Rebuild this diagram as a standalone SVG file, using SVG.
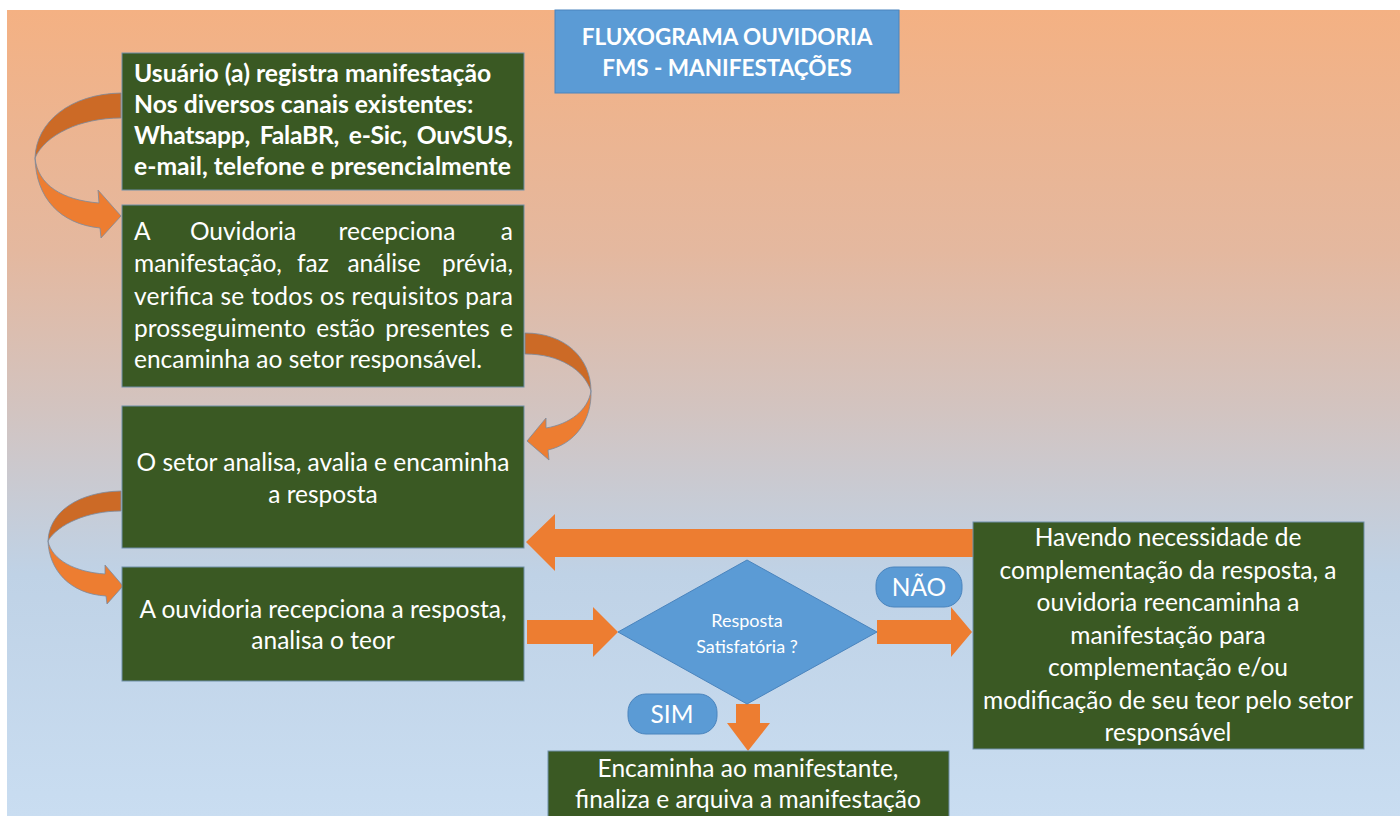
<svg xmlns="http://www.w3.org/2000/svg" width="1400" height="816" viewBox="0 0 1400 816">
<style>
.t{font-family:Lato,"Liberation Sans",sans-serif;fill:#ffffff;}
.b{font-weight:bold;}
.c{text-anchor:middle;}
.e{text-anchor:end;}
.box{fill:#3a5923;stroke:#6f8fa8;stroke-width:1;}
.blue{fill:#5b9bd5;stroke:#4a84bd;stroke-width:1;}
.arr{fill:#ed7d31;}
.dk{fill:#cc6a26;stroke:#7a8aa0;stroke-width:0.8;}
.lt{fill:#ed7d31;stroke:#7a8aa0;stroke-width:0.8;}
.f24{font-size:24.5px;}
.f25{font-size:24.7px;}
</style>
<defs>
<linearGradient id="bg" x1="0" y1="0" x2="0" y2="1">
<stop offset="0" stop-color="#f4b183"/>
<stop offset="0.3" stop-color="#e4b89f"/>
<stop offset="0.5" stop-color="#d2c4c1"/>
<stop offset="0.7" stop-color="#bfd2e6"/>
<stop offset="1" stop-color="#c9ddf1"/>
</linearGradient>
</defs>
<rect x="0" y="0" width="1400" height="816" fill="#ffffff"/>
<rect x="7" y="10" width="1393" height="806" fill="url(#bg)"/>

<g id="connectors">
<path class="dk" d="M121 93 C70 94 36 122 35 158 C45 135 80 118 121 118 Z"/>
<path class="lt" d="M35 158 C38 185 62 200 99 203 L98 190 L121 216 L101 238 L100 228 C60 224 36 198 35 158 Z"/>
<path class="dk" d="M525 333 C565 333 591 358 591 391 C584 370 560 354 525 354 Z"/>
<path class="lt" d="M591 391 C588 410 570 424 546 428 L546 418 L527 441 L549 460 L548 450 C575 444 592 420 591 391 Z"/>
<path class="dk" d="M121 491 C78 492 49 512 48 541 C58 524 88 511 121 511 Z"/>
<path class="lt" d="M48 541 C52 560 75 572 105 574 L105 565 L123 586 L107 604 L106 596 C70 594 49 570 48 541 Z"/>
<polygon class="arr" points="973,529 555,529 555,514 526,542 555,571 555,557 973,557"/>
<polygon class="arr" points="527,620 593,620 593,607 618,632 593,657 593,644 527,644"/>
<polygon class="arr" points="877,620 951,620 951,607 972,632 951,657 951,644 877,644"/>
<polygon class="arr" points="736,704 760,704 760,723 770,723 748,751 727,723 736,723"/>
</g>

<g id="title">
<rect class="blue" x="555" y="10" width="344" height="83"/>
<text class="t b c" x="727" y="45" font-size="22.5">FLUXOGRAMA OUVIDORIA</text>
<text class="t b c" x="727" y="76" font-size="22.5">FMS - MANIFESTAÇÕES</text>
</g>

<g id="n1">
<rect class="box" x="122" y="53" width="402" height="137"/>
<text class="t b f25" x="134" y="82">Usuário (a) registra manifestação</text>
<text class="t b f25" x="134" y="113">Nos diversos canais existentes:</text>
<text class="t b f25" x="134" y="144" textLength="379" lengthAdjust="spacing" word-spacing="4">Whatsapp, FalaBR, e-Sic, OuvSUS,</text>
<text class="t b f25" x="134" y="175">e-mail, telefone e presencialmente</text>
</g>

<g id="n2">
<rect class="box" x="122" y="205" width="402" height="182"/>
<text class="t f24" x="134" y="240">A</text>
<text class="t f24 c" x="243" y="240">Ouvidoria</text>
<text class="t f24 c" x="397" y="240">recepciona</text>
<text class="t f24 e" x="513" y="240">a</text>
<text class="t f24" x="134" y="272">manifestação,</text>
<text class="t f24 c" x="313" y="272">faz</text>
<text class="t f24 c" x="384" y="272">análise</text>
<text class="t f24 e" x="513" y="272">prévia,</text>
<text class="t f24" x="134" y="305" textLength="379" lengthAdjust="spacing">verifica se todos os requisitos para</text>
<text class="t f24" x="134" y="337" textLength="379" lengthAdjust="spacing" word-spacing="4">prosseguimento estão presentes e</text>
<text class="t f24" x="134" y="368">encaminha ao setor responsável.</text>
</g>

<g id="n3">
<rect class="box" x="122" y="406" width="402" height="142"/>
<text class="t c f24" x="323" y="471">O setor analisa, avalia e encaminha</text>
<text class="t c f24" x="323" y="503">a resposta</text>
</g>

<g id="n4">
<rect class="box" x="122" y="567" width="402" height="114"/>
<text class="t c f24" x="323" y="618">A ouvidoria recepciona a resposta,</text>
<text class="t c f24" x="323" y="649">analisa o teor</text>
</g>

<g id="decision">
<polygon class="blue" points="618,632 747,560 877,632 747,704"/>
<text class="t c" x="747" y="627" font-size="18">Resposta</text>
<text class="t c" x="747" y="653" font-size="18">Satisfatória ?</text>
</g>

<g id="nao">
<rect class="blue" x="876" y="567" width="86" height="40" rx="18"/>
<text class="t c f24" x="919" y="596">NÃO</text>
</g>

<g id="sim">
<rect class="blue" x="628" y="694" width="89" height="40" rx="18"/>
<text class="t c f24" x="672" y="723">SIM</text>
</g>

<g id="n5">
<rect class="box" x="548" y="751" width="401" height="70"/>
<text class="t c f24" x="748" y="777">Encaminha ao manifestante,</text>
<text class="t c f24" x="748" y="808">finaliza e arquiva a manifestação</text>
</g>

<g id="n6">
<rect class="box" x="973" y="522" width="391" height="227"/>
<text class="t c f24" x="1168" y="546">Havendo necessidade de</text>
<text class="t c f24" x="1168" y="579">complementação da resposta, a</text>
<text class="t c f24" x="1168" y="611">ouvidoria reencaminha a</text>
<text class="t c f24" x="1168" y="644">manifestação para</text>
<text class="t c f24" x="1168" y="676">complementação e/ou</text>
<text class="t c f24" x="1168" y="709">modificação de seu teor pelo setor</text>
<text class="t c f24" x="1168" y="741">responsável</text>
</g>
</svg>
